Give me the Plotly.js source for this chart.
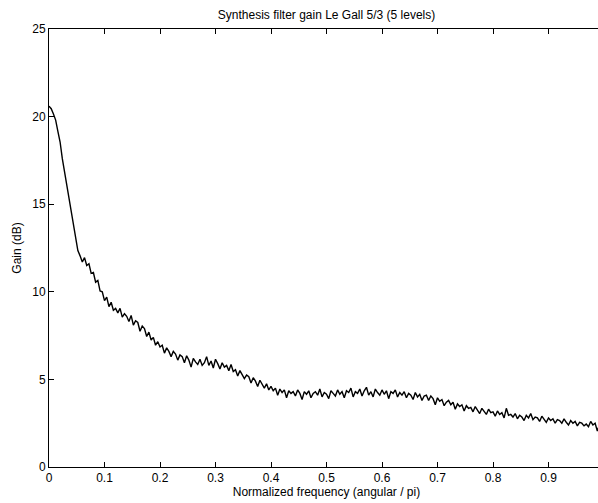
<!DOCTYPE html>
<html>
<head>
<meta charset="utf-8">
<script src="https://cdn.plot.ly/plotly-3.0.1.min.js"></script>
<style>
html,body{margin:0;padding:0;overflow:hidden;background:#fff;width:598px;height:503px;}
#chart{width:610px;height:503px;}
</style>
</head>
<body>
<div id="chart"></div>
<script>
// Frequency step (normalized angular / pi) between samples
const freqStep = 0.004;

// Gain (dB), one value per frequency sample
const gainDb = [
  20.6, 20.45, 20.15, 19.8, 19.15, 18.55, 17.6, 16.85, 15.95, 15.25,
  14.45, 13.6, 12.95, 12.35, 12.05, 11.7, 11.95, 11.5, 11.6, 11.05,
  11.1, 10.55, 10.65, 10.05, 10.0, 9.5, 9.7, 9.15, 9.4, 8.95,
  9.05, 8.8, 9.05, 8.55, 8.75, 8.6, 8.3, 8.65, 8.1, 8.35,
  8.25, 7.75, 8.05, 7.9, 7.45, 7.7, 7.25, 7.4, 6.95, 7.15,
  6.85, 6.95, 6.5, 6.8, 6.6, 6.3, 6.6, 6.45, 6.1, 6.4,
  6.3, 5.95, 6.35, 6.1, 5.7, 6.2, 6.0, 5.85, 6.15, 5.8,
  5.95, 6.3, 5.8, 6.05, 5.65, 6.15, 5.9, 5.6, 5.95, 5.7,
  5.8, 5.5, 5.85, 5.45, 5.55, 5.2, 5.5, 5.3, 5.05, 5.25,
  5.15, 4.8, 5.1, 4.9, 4.6, 4.95, 4.7, 4.5, 4.75, 4.4,
  4.6, 4.35, 4.5, 4.1, 4.45, 4.25, 4.4, 3.95, 4.35, 4.2,
  4.3, 4.05, 4.4, 4.2, 3.85, 4.3, 4.15, 4.35, 3.95, 4.2,
  4.3, 4.1, 4.45, 4.0, 4.25, 4.15, 3.9, 4.35, 4.2, 4.05,
  4.4, 4.15, 4.3, 3.95, 4.35, 4.25, 4.5, 4.0, 4.3, 4.2,
  4.45, 4.05, 4.35, 4.55, 4.1, 4.3, 4.0, 4.45, 4.25, 4.1,
  4.4, 4.15, 4.35, 3.9, 4.3, 4.2, 4.4, 4.0, 4.25, 4.1,
  4.3, 3.95, 4.2, 4.1, 3.85, 4.25, 4.0, 4.15, 3.8, 4.05,
  4.1, 3.8, 4.05, 3.9, 3.55, 3.95, 3.75, 3.85, 3.5, 3.7,
  3.8, 3.55, 3.7, 3.3, 3.6, 3.45, 3.55, 3.2, 3.5, 3.35,
  3.4, 3.15, 3.45, 3.25, 3.05, 3.35, 3.2, 3.0, 3.3, 3.1,
  3.15, 2.9, 3.2, 3.0, 3.1, 2.8, 3.35, 2.95, 3.0, 2.85,
  3.05, 2.75, 2.95, 2.85, 2.65, 2.95, 2.8, 3.05, 2.7, 2.85,
  2.8, 2.6, 2.9, 2.7, 2.55, 2.8, 2.65, 2.75, 2.5, 2.7,
  2.65, 2.5, 2.75, 2.55, 2.4, 2.65, 2.5, 2.6, 2.35, 2.55,
  2.5, 2.35, 2.45, 2.3, 2.6, 2.4, 2.5, 2.05, 2.45
];

const xTickVals = [0, 0.1, 0.2, 0.3, 0.4, 0.5, 0.6, 0.7, 0.8, 0.9];
const xTickText = ['0', '0.1', '0.2', '0.3', '0.4', '0.5', '0.6', '0.7', '0.8', '0.9'];
const yTickVals = [0, 5, 10, 15, 20, 25];

const freq = gainDb.map((_, i) => +(i * freqStep).toFixed(4));

const font = {family: 'Liberation Sans, Arial, Helvetica, sans-serif', size: 12, color: '#000'};

const trace = {
  x: freq, y: gainDb, type: 'scatter', mode: 'lines',
  line: {color: '#000', width: 1.4}, hoverinfo: 'none'
};

const layout = {
  width: 610, height: 503,
  margin: {l: 49, r: 6, t: 29, b: 36, pad: 0},
  paper_bgcolor: '#fff', plot_bgcolor: '#fff',
  font: font,
  showlegend: false,
  title: {text: 'Synthesis filter gain Le Gall 5/3 (5 levels)', font: font,
          x: 0.5, xref: 'paper', y: 1 - 15/503, yref: 'container', yanchor: 'middle'},
  xaxis: {
    range: [0, 1], autorange: false, fixedrange: true,
    tickvals: xTickVals, ticktext: xTickText,
    ticks: 'inside', ticklen: 5, tickwidth: 1, tickcolor: '#000',
    showline: true, linecolor: '#000', linewidth: 1, mirror: 'ticks',
    showgrid: false, zeroline: false,
    tickfont: font,
    title: {text: 'Normalized frequency (angular / pi)', font: font, standoff: 1}
  },
  yaxis: {
    range: [0, 25], autorange: false, fixedrange: true,
    tickvals: yTickVals,
    ticks: 'inside', ticklen: 5, tickwidth: 1, tickcolor: '#000',
    showline: true, linecolor: '#000', linewidth: 1, mirror: 'ticks',
    showgrid: false, zeroline: false,
    tickfont: font,
    title: {text: 'Gain (dB)', font: font, standoff: 8}
  }
};

Plotly.newPlot('chart', [trace], layout, {staticPlot: true, displayModeBar: false});
</script>
</body>
</html>
